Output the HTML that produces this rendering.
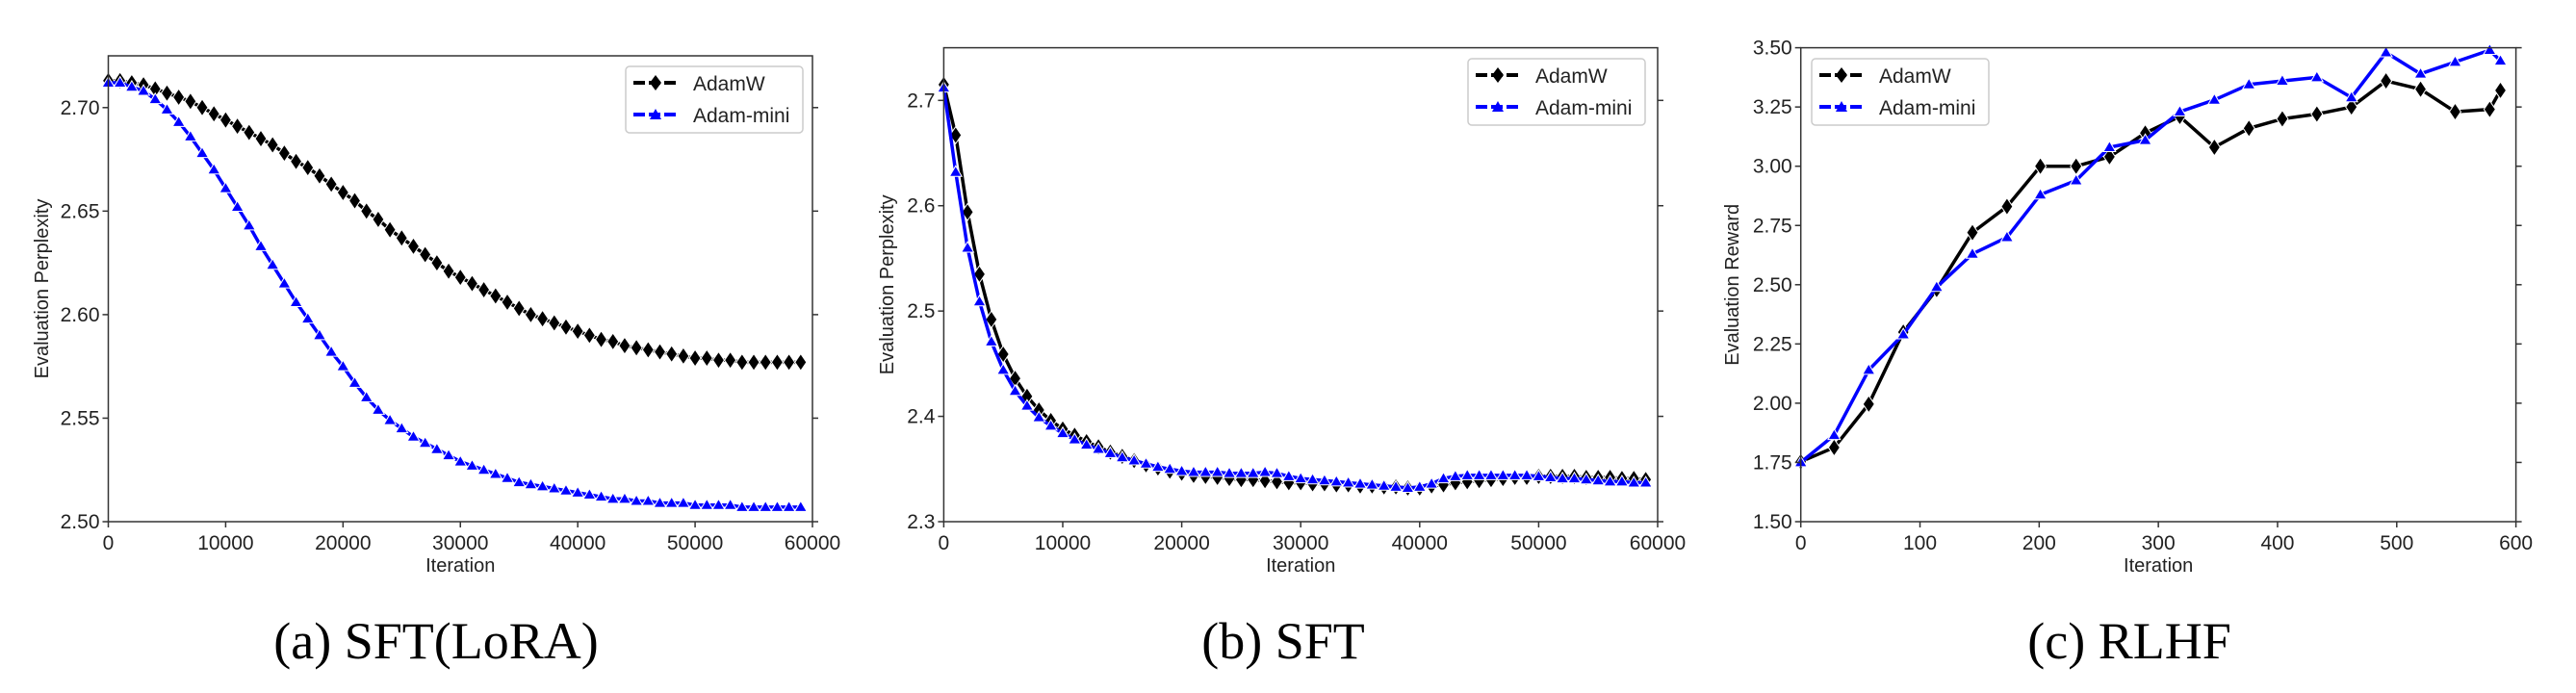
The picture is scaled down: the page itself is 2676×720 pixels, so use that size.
<!DOCTYPE html>
<html><head><meta charset="utf-8"><style>
body{margin:0;background:#fff;width:2676px;height:720px;overflow:hidden}
svg{display:block}
text{font-family:"Liberation Sans",sans-serif;fill:#222}
.cap{font-family:"Liberation Serif",serif;font-size:54px;fill:#000}
</style></head><body>
<svg id="fig" width="2676" height="720" viewBox="0 0 2676 720"></svg>
<script>
// ---- Chart (a) SFT(LoRA) data ----
const aIters = [0,1000,2000,3000,4000,5000,6000,7000,8000,9000,10000,11000,12000,13000,14000,15000,16000,17000,18000,19000,20000,21000,22000,23000,24000,25000,26000,27000,28000,29000,30000,31000,32000,33000,34000,35000,36000,37000,38000,39000,40000,41000,42000,43000,44000,45000,46000,47000,48000,49000,50000,51000,52000,53000,54000,55000,56000,57000,58000,59000];
const aAdamW = [2.713,2.713,2.712,2.711,2.709,2.707,2.705,2.703,2.700,2.697,2.694,2.691,2.688,2.685,2.682,2.678,2.674,2.671,2.667,2.663,2.659,2.655,2.650,2.646,2.641,2.637,2.633,2.629,2.625,2.621,2.618,2.615,2.612,2.609,2.606,2.603,2.600,2.598,2.596,2.594,2.592,2.590,2.588,2.587,2.585,2.584,2.583,2.582,2.581,2.580,2.579,2.579,2.578,2.578,2.577,2.577,2.577,2.577,2.577,2.577];
const aAdamMini = [2.712,2.712,2.710,2.708,2.704,2.699,2.693,2.686,2.678,2.670,2.661,2.652,2.643,2.633,2.624,2.615,2.606,2.598,2.590,2.582,2.575,2.567,2.560,2.554,2.549,2.545,2.541,2.538,2.535,2.532,2.529,2.527,2.525,2.523,2.521,2.519,2.518,2.517,2.516,2.515,2.514,2.513,2.512,2.511,2.511,2.510,2.510,2.509,2.509,2.509,2.508,2.508,2.508,2.508,2.507,2.507,2.507,2.507,2.507,2.507];
const aXTicks = [0,10000,20000,30000,40000,50000,60000];
const aYTicks = [2.50,2.55,2.60,2.65,2.70];
// ---- Chart (b) SFT data ----
const bIters = aIters;
const bAdamW = [2.715,2.667,2.594,2.535,2.492,2.459,2.436,2.419,2.406,2.396,2.388,2.382,2.376,2.371,2.366,2.362,2.358,2.354,2.351,2.348,2.346,2.344,2.343,2.342,2.341,2.340,2.340,2.339,2.338,2.337,2.337,2.336,2.336,2.335,2.335,2.334,2.334,2.333,2.333,2.332,2.332,2.334,2.335,2.337,2.338,2.339,2.340,2.341,2.342,2.342,2.343,2.343,2.343,2.343,2.342,2.342,2.342,2.341,2.341,2.340];
const bAdamMini = [2.712,2.632,2.560,2.509,2.471,2.444,2.424,2.410,2.399,2.391,2.384,2.378,2.373,2.369,2.365,2.361,2.358,2.355,2.352,2.350,2.348,2.347,2.347,2.347,2.346,2.346,2.346,2.347,2.346,2.343,2.341,2.340,2.339,2.338,2.337,2.336,2.335,2.334,2.333,2.332,2.333,2.336,2.341,2.343,2.344,2.344,2.344,2.344,2.344,2.344,2.343,2.342,2.341,2.341,2.340,2.339,2.338,2.338,2.337,2.337];
const bXTicks = [0,10000,20000,30000,40000,50000,60000];
const bYTicks = [2.3,2.4,2.5,2.6,2.7];
// ---- Chart (c) RLHF data ----
const cIters = [0,28,57,86,114,144,173,201,231,259,289,318,347,376,404,433,462,491,520,549,578,587];
const cAdamW = [1.753,1.813,1.996,2.30,2.48,2.72,2.83,3.00,3.00,3.04,3.14,3.21,3.08,3.16,3.20,3.22,3.25,3.36,3.325,3.23,3.24,3.32];
const cAdamMini = [1.75,1.865,2.14,2.29,2.49,2.63,2.70,2.88,2.94,3.08,3.11,3.23,3.28,3.345,3.36,3.375,3.29,3.48,3.39,3.44,3.49,3.445];
const cXTicks = [0,100,200,300,400,500,600];
const cYTicks = [1.50,1.75,2.00,2.25,2.50,2.75,3.00,3.25,3.50];

const NS='http://www.w3.org/2000/svg';
const svg=document.getElementById('fig');
function mk(tag,attrs,parent){const e=document.createElementNS(NS,tag);for(const k in attrs)e.setAttribute(k,attrs[k]);(parent||svg).appendChild(e);return e;}

function chart(cfg){
  const g=mk('g',{});
  
  
  const {L,R,T,B,x0,x1,y0,y1}=cfg;
  const sx=v=>L+(v-x0)/(x1-x0)*(R-L);
  const sy=v=>B-(v-y0)/(y1-y0)*(B-T);
  // series
  cfg.series.forEach(s=>{
    const sg=mk('g',{},g);
    
    
    const pts=s.y.map((v,i)=>sx(cfg.xs[i]).toFixed(1)+','+sy(v).toFixed(1)).join(' ');
    const pl=mk('polyline',{points:pts,fill:'none',stroke:s.color,'stroke-width':cfg.lw,'stroke-linejoin':'round'},sg);
    
    
    s.y.forEach((v,i)=>{
      const x=sx(cfg.xs[i]),y=sy(v);
      let m;
      if(s.marker==='d'){const w=cfg.ms,h=cfg.ms*1.1;m=mk('polygon',{points:`${x},${y-h} ${x+w*0.75},${y} ${x},${y+h} ${x-w*0.75},${y}`,fill:s.color,stroke:'#fff','stroke-width':1},sg);}
      else{const w=cfg.ms*0.8;m=mk('polygon',{points:`${x},${y-w} ${x+w},${y+w*0.7} ${x-w},${y+w*0.7}`,fill:s.color,stroke:'#fff','stroke-width':1},sg);}
      
      
    });
  });
  // frame
  const fr=mk('rect',{x:L,y:T,width:R-L,height:B-T,fill:'none',stroke:'#333','stroke-width':1.5},g);
  
  
  cfg.xt.forEach(v=>{
    const x=sx(v);
    mk('line',{x1:x,y1:B,x2:x,y2:B+6,stroke:'#333','stroke-width':1.5},g);
    const t=mk('text',{x:x,y:B+29,'text-anchor':'middle','font-size':21},g);t.textContent=v;
    
    
  });
  cfg.yt.forEach(v=>{
    const y=sy(v);
    mk('line',{x1:L-6,y1:y,x2:L,y2:y,stroke:'#333','stroke-width':1.5},g);
    mk('line',{x1:R,y1:y,x2:R+6,y2:y,stroke:'#333','stroke-width':1.5},g);
    const t=mk('text',{x:L-9,y:y+7,'text-anchor':'end','font-size':21},g);t.textContent=v.toFixed(cfg.dec);
    
    
  });
  const xl=mk('text',{x:(L+R)/2,y:594,'text-anchor':'middle','font-size':20},g);xl.textContent='Iteration';
  
  
  const yl=mk('text',{x:0,y:0,'text-anchor':'middle','font-size':20,transform:`translate(${cfg.ylx},${(T+B)/2}) rotate(-90)`},g);yl.textContent=cfg.ylabel;
  
  
  // legend
  const lg=mk('g',{},g);
  
  
  const [lx,ly]=cfg.leg;
  mk('rect',{x:lx,y:ly,width:184,height:69,rx:4,fill:'#fff',stroke:'#ccc','stroke-width':1.5},lg);
  cfg.series.forEach((s,i)=>{
    const yy=ly+17+i*33;
    const le=mk('g',{},lg);
    
    
    mk('line',{x1:lx+8,y1:yy,x2:lx+55,y2:yy,stroke:s.color,'stroke-width':4,'stroke-dasharray':'12,4'},le);
    const cx=lx+31;
    if(s.marker==='d')mk('polygon',{points:`${cx},${yy-8} ${cx+6},${yy} ${cx},${yy+8} ${cx-6},${yy}`,fill:s.color},le);
    else mk('polygon',{points:`${cx},${yy-6} ${cx+6},${yy+5} ${cx-6},${yy+5}`,fill:s.color},le);
    const t=mk('text',{x:lx+70,y:yy+8,'font-size':21},le);t.textContent=s.label;
  });
  const cap=mk('text',{x:cfg.capx,y:684,'text-anchor':'middle',class:'cap'},g);cap.textContent=cfg.caption;
  
  
}

chart({name:'chart-sft-lora',L:112.5,R:844,T:58,B:542,x0:0,x1:60000,y0:2.50,y1:2.725,xs:aIters,xt:aXTicks,yt:aYTicks,dec:2,lw:3.5,ms:8,
  ylabel:'Evaluation Perplexity',ylx:50,leg:[650,69],capx:453,caption:'(a)  SFT(LoRA)',
  series:[{name:'adamw-series',label:'AdamW',color:'#000',marker:'d',y:aAdamW},{name:'adam-mini-series',label:'Adam-mini',color:'#00f',marker:'t',y:aAdamMini}]});
chart({name:'chart-sft',L:980.4,R:1722,T:49.6,B:542,x0:0,x1:60000,y0:2.3,y1:2.75,xs:bIters,xt:bXTicks,yt:bYTicks,dec:1,lw:3.5,ms:8,
  ylabel:'Evaluation Perplexity',ylx:928,leg:[1525,61],capx:1333,caption:'(b)  SFT',
  series:[{name:'adamw-series',label:'AdamW',color:'#000',marker:'d',y:bAdamW},{name:'adam-mini-series',label:'Adam-mini',color:'#00f',marker:'t',y:bAdamMini}]});
chart({name:'chart-rlhf',L:1870.7,R:2613.6,T:49.6,B:542,x0:0,x1:600,y0:1.5,y1:3.5,xs:cIters,xt:cXTicks,yt:cYTicks,dec:2,lw:3.5,ms:8,
  ylabel:'Evaluation Reward',ylx:1806,leg:[1882,61],capx:2212,caption:'(c)  RLHF',
  series:[{name:'adamw-series',label:'AdamW',color:'#000',marker:'d',y:cAdamW},{name:'adam-mini-series',label:'Adam-mini',color:'#00f',marker:'t',y:cAdamMini}]});
</script>
</body></html>
